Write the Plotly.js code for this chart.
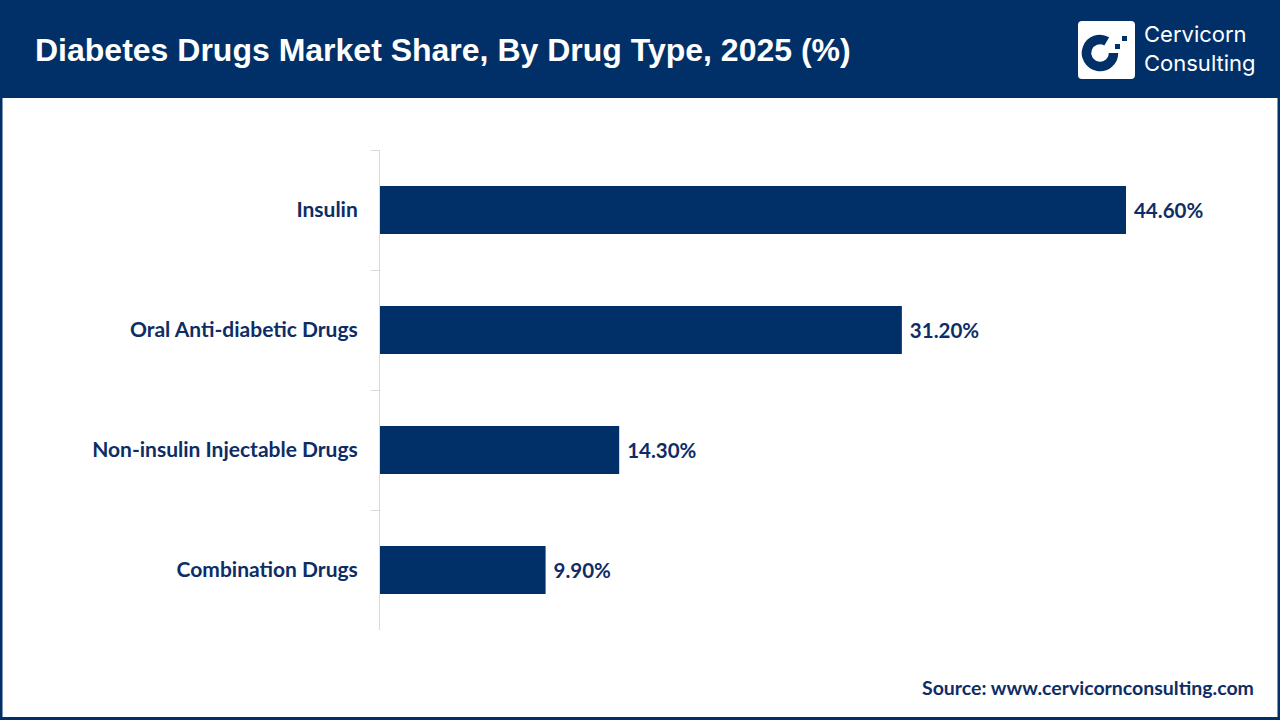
<!DOCTYPE html>
<html>
<head>
<meta charset="utf-8">
<script src="https://cdn.plot.ly/plotly-3.0.1.min.js"></script>
<style>html,body{margin:0;padding:0;background:#fff;}#chart{width:1280px;height:720px;}</style>
</head>
<body>
<div id="chart"></div>
<script>
const categories = ["Insulin", "Oral Anti-diabetic Drugs", "Non-insulin Injectable Drugs", "Combination Drugs"];
const shares = [44.6, 31.2, 14.3, 9.9];
const titleText = "Diabetes Drugs Market Share, By Drug Type, 2025 (%)";
const sourceText = "Source: www.cervicornconsulting.com";

const NAVY = "#013068";
const TEXT = "#0e2d66";
const W = 1280, H = 720;
const L = 380, R = 40, T = 150, B = 90;
const pw = W - L - R, ph = H - T - B;
const px = x => (x - L) / pw;
const py = y => (H - B - y) / ph;

const icon = 'data:image/svg+xml;utf8,' + encodeURIComponent(
  '<svg xmlns="http://www.w3.org/2000/svg" width="57" height="58" viewBox="0 0 57 58">' +
  '<rect x="0" y="0" width="57" height="58" rx="4" ry="4" fill="#ffffff"/>' +
  '<path d="M 28.75 20.3 A 13.5 13.5 0 1 0 35.5 32" fill="none" stroke="' + NAVY + '" stroke-width="9.5"/>' +
  '<rect x="37" y="23" width="5" height="5" fill="' + NAVY + '"/>' +
  '<rect x="44" y="15" width="5" height="5" fill="' + NAVY + '"/>' +
  '</svg>');

const trace = {
  type: "bar",
  orientation: "h",
  y: categories,
  x: shares,
  marker: {color: NAVY},
  text: shares.map(v => " " + v.toFixed(2) + "%"),
  texttemplate: "%{text}",
  textposition: "outside",
  cliponaxis: false,
  textfont: {family: "Lato", size: 20.5, color: TEXT, weight: "bold"},
  hoverinfo: "none",
  width: 0.4
};

const layout = {
  width: W, height: H,
  margin: {l: L, r: R, t: T, b: B},
  paper_bgcolor: "#ffffff",
  plot_bgcolor: "#ffffff",
  showlegend: false,
  xaxis: {range: [0, pw / ((1126 - 380) / 44.6)], visible: false, fixedrange: true},
  yaxis: {
    autorange: "reversed",
    showline: true, linecolor: "#d9d9d9", linewidth: 1,
    ticks: "outside", tickson: "boundaries", ticklen: 8, tickcolor: "#d9d9d9", tickwidth: 1,
    ticklabelstandoff: 17,
    tickfont: {family: "Lato", size: 21, color: TEXT, weight: "bold"},
    showgrid: false, zeroline: false, fixedrange: true
  },
  shapes: [
    {type: "rect", xref: "paper", yref: "paper", x0: px(0), x1: px(W), y0: py(0), y1: py(98), fillcolor: NAVY, line: {width: 0}, layer: "below"},
    {type: "rect", xref: "paper", yref: "paper", x0: px(1), x1: px(W - 1), y0: py(1), y1: py(H - 1.5), fillcolor: "rgba(0,0,0,0)", line: {color: NAVY, width: 3}}
  ],
  images: [
    {source: icon, xref: "paper", yref: "paper", x: px(1078), y: py(21), sizex: 57 / pw, sizey: 58 / ph, xanchor: "left", yanchor: "top", sizing: "stretch", layer: "above"}
  ],
  annotations: [
    {text: "<b>" + titleText + "</b>", xref: "paper", yref: "paper", x: px(33), y: py(50), xanchor: "left", yanchor: "middle", showarrow: false,
     font: {family: "Liberation Sans, Arial", size: 32, color: "#ffffff"}},
    {text: "Cervicorn<br>Consulting", xref: "paper", yref: "paper", x: px(1142), y: py(48), xanchor: "left", yanchor: "middle", align: "left", showarrow: false,
     font: {family: "Inter, Roboto", size: 22, color: "#ffffff"}},
    {text: "<b>" + sourceText + "</b>", xref: "paper", yref: "paper", x: px(1256), y: py(687), xanchor: "right", yanchor: "middle", showarrow: false,
     font: {family: "Lato", size: 19.5, color: TEXT}}
  ]
};

Plotly.newPlot("chart", [trace], layout, {displayModeBar: false, staticPlot: true});
</script>
</body>
</html>
